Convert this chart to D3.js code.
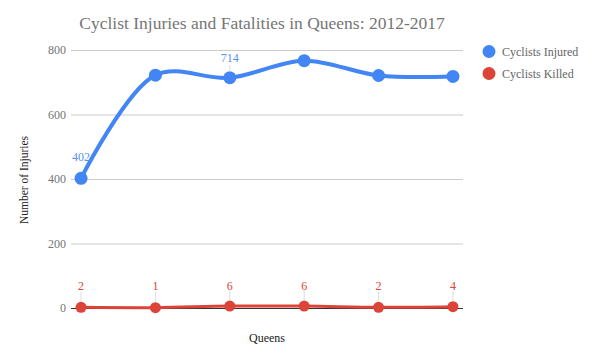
<!DOCTYPE html>
<html><head><meta charset="utf-8">
<script src="https://cdn.jsdelivr.net/npm/d3@7"></script>
<style>body{margin:0;background:#fff}</style>
</head><body>
<svg id="c" width="597" height="358"></svg>
<script>
const categories = ["2012","2013","2014","2015","2016","2017"];
const injured = [402, 722, 714, 767, 721, 718];
const killed = [2, 1, 6, 6, 2, 4];
const injuredLabels = [true, false, true, false, false, false];
const yTicks = [0, 200, 400, 600, 800];
const seriesNames = ["Cyclists Injured", "Cyclists Killed"];
const colors = ["#4285f4", "#db4437"];

const svg = d3.select("#c");
const font = "'Liberation Serif', 'Times New Roman', serif";
const L = 71, R = 463, T = 50, B = 308;
const x = d3.scalePoint().domain(categories).range([L, R]).padding(0.135);
const y = d3.scaleLinear().domain([0, 800]).range([B, T]);

svg.append("text").attr("x", 262).attr("y", 29).attr("text-anchor", "middle")
  .style("font-family", font).attr("font-size", 17.5).attr("fill", "#757575")
  .text("Cyclist Injuries and Fatalities in Queens: 2012-2017");

const yAxis = d3.axisLeft(y).tickValues(yTicks).tickSize(-(R - L)).tickFormat(d3.format("d"));
const g = svg.append("g").attr("transform", `translate(${L},0)`).call(yAxis);
g.attr("font-family", null);
g.select(".domain").remove();
g.selectAll(".tick line").attr("stroke", "#cccccc");
g.selectAll(".tick text").attr("x", -5).style("font-family", font).attr("font-size", 12).attr("fill", "#757575");
g.selectAll(".tick").filter(d => d === 0).select("line").attr("stroke", "#333");

svg.append("text").attr("transform", `translate(28,${(T + B) / 2 + 1}) rotate(-90)`)
  .attr("text-anchor", "middle").style("font-family", font).attr("font-size", 11.5).attr("fill", "#222")
  .text("Number of Injuries");
svg.append("text").attr("x", 267).attr("y", 342).attr("text-anchor", "middle")
  .style("font-family", font).attr("font-size", 12).attr("fill", "#222").text("Queens");

const line = d3.line().x((d, i) => x(categories[i])).y(d => y(d)).curve(d3.curveCatmullRom.alpha(0.5));

// killed
svg.append("path").datum(killed).attr("d", line).attr("fill", "none").attr("stroke", colors[1]).attr("stroke-width", 3);
svg.selectAll(".kp").data(killed).join("circle").attr("cx", (d, i) => x(categories[i])).attr("cy", d => y(d)).attr("r", 5.5).attr("fill", colors[1]);
svg.selectAll(".kl").data(killed).join("line").attr("x1", (d, i) => x(categories[i])).attr("x2", (d, i) => x(categories[i]))
  .attr("y1", d => y(d) - 6).attr("y2", d => y(d) - 16).attr("stroke", "#ddd").attr("stroke-width", 1);
svg.selectAll(".kt").data(killed).join("text").attr("x", (d, i) => x(categories[i])).attr("y", 290)
  .attr("text-anchor", "middle").style("font-family", font).attr("font-size", 12).attr("fill", colors[1]).text(d => d);

// injured
svg.append("path").datum(injured).attr("d", line).attr("fill", "none").attr("stroke", colors[0]).attr("stroke-width", 4);
svg.selectAll(".ip").data(injured).join("circle").attr("cx", (d, i) => x(categories[i])).attr("cy", d => y(d)).attr("r", 6.5).attr("fill", colors[0]);
const lab = injured.map((v, i) => ({v, i})).filter(d => injuredLabels[d.i]);
svg.selectAll(".il").data(lab.filter(d => d.i === 2)).join("line").attr("x1", d => x(categories[d.i])).attr("x2", d => x(categories[d.i]))
  .attr("y1", d => y(d.v) - 6).attr("y2", d => y(d.v) - 13).attr("stroke", "#ddd");
svg.selectAll(".it").data(lab).join("text").attr("x", d => x(categories[d.i])).attr("y", d => d.i === 0 ? y(d.v) - 17 : y(d.v) - 16)
  .attr("text-anchor", "middle").style("font-family", font).attr("font-size", 12).attr("fill", "#5a8ff0").text(d => d.v);

// legend
seriesNames.forEach((n, i) => {
  svg.append("circle").attr("cx", 489).attr("cy", 51.5 + i * 22).attr("r", 6.5).attr("fill", colors[i]);
  svg.append("text").attr("x", 502).attr("y", 55.5 + i * 22).style("font-family", font).attr("font-size", 12)
    .attr("fill", "#666").text(n);
});
</script>
</body></html>
